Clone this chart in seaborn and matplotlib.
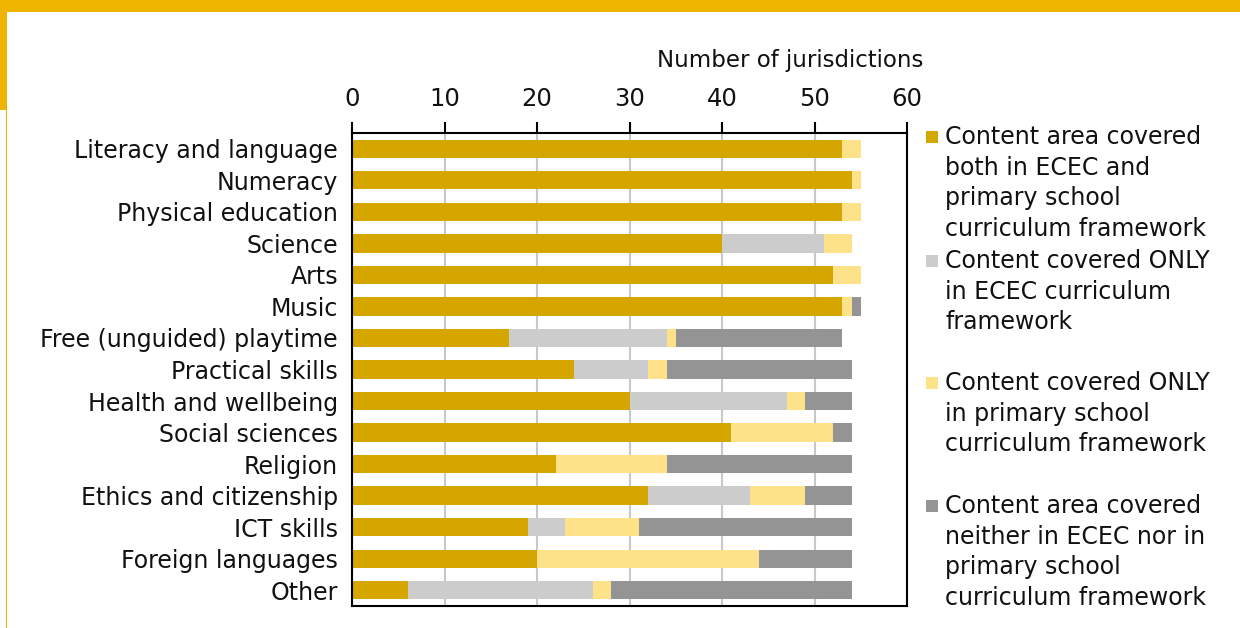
import matplotlib
matplotlib.use("Agg")
import matplotlib.pyplot as plt
from matplotlib.patches import Rectangle
import seaborn as sns
import pandas as pd
import numpy as np

categories = ["Literacy and language", "Numeracy", "Physical education", "Science", "Arts",
              "Music", "Free (unguided) playtime", "Practical skills", "Health and wellbeing",
              "Social sciences", "Religion", "Ethics and citizenship", "ICT skills",
              "Foreign languages", "Other"]
both = [53, 54, 53, 40, 52, 53, 17, 24, 30, 41, 22, 32, 19, 20, 6]
ecec_only = [0, 0, 0, 11, 0, 0, 17, 8, 17, 0, 0, 11, 4, 0, 20]
primary_only = [2, 1, 2, 3, 3, 1, 1, 2, 2, 11, 12, 6, 8, 24, 2]
neither = [0, 0, 0, 0, 0, 1, 18, 20, 5, 2, 20, 5, 23, 10, 26]

series_labels = [
    "Content area covered\nboth in ECEC and\nprimary school\ncurriculum framework",
    "Content covered ONLY\nin ECEC curriculum\nframework",
    "Content covered ONLY\nin primary school\ncurriculum framework",
    "Content area covered\nneither in ECEC nor in\nprimary school\ncurriculum framework",
]
colors = ["#D5A600", "#CCCCCC", "#FEE28A", "#949494"]
x_ticks = [0, 10, 20, 30, 40, 50, 60]
x_label = "Number of jurisdictions"

sns.set_style("white")
plt.rcParams["font.family"] = ["DejaVu Sans"]
plt.rcParams["text.color"] = "#111111"
plt.rcParams["xtick.color"] = "black"
plt.rcParams["ytick.color"] = "black"
plt.rcParams["xtick.labelcolor"] = "#111111"
plt.rcParams["ytick.labelcolor"] = "#111111"
plt.rcParams["axes.labelcolor"] = "#111111"
FS = 17

df = pd.DataFrame({"category": categories, "both": both, "ecec": ecec_only,
                   "primary": primary_only, "neither": neither})
series_cols = ["both", "ecec", "primary", "neither"]
cum = df[series_cols].cumsum(axis=1)

W, H = 1240, 628
fig = plt.figure(figsize=(W / 100, H / 100), dpi=100)
ax = fig.add_axes([352 / W, 1 - 606 / H, (907 - 352) / W, (606 - 133) / H])

for i in range(3, -1, -1):
    d = pd.DataFrame({"category": categories, "value": cum[series_cols[i]].values})
    sns.barplot(data=d, x="value", y="category", order=categories, orient="h",
                color=colors[i], saturation=1, width=0.58, errorbar=None, ax=ax,
                edgecolor="none", linewidth=0, zorder=2)

ax.set_xlim(0, 60)
ax.set_ylim(len(categories) - 0.5, -0.5)
ax.set_xticks(x_ticks)
ax.xaxis.tick_top()
ax.xaxis.set_label_position("top")
ax.tick_params(axis="x", direction="out", length=8, width=1.5, color="black",
               labelsize=FS + 0.5, pad=8, top=True, bottom=False)
ax.set_xlabel(x_label, fontsize=FS - 0.5)
ax.xaxis.set_label_coords((790 - 352) / (907 - 352), 1 + (133 - 67) / (606 - 133))
ax.set_ylabel("")
ax.set_yticks(range(len(categories)))
ax.set_yticklabels(categories, fontsize=FS)
ax.set_yticks(np.arange(-0.5, len(categories), 1), minor=True)
ax.tick_params(axis="y", which="major", length=0, pad=10)
ax.tick_params(axis="y", which="minor", length=8, width=1.5, color="black", direction="out")
ax.grid(axis="x", color="#C8C8C8", linewidth=1.5, zorder=0)
ax.set_axisbelow(True)
for s in ax.spines.values():
    s.set_visible(True)
    s.set_color("black")
    s.set_linewidth(1.5)

# decorative frame
fig.patches.append(Rectangle((0, 1 - 12 / H), 1, 12 / H, transform=fig.transFigure,
                             facecolor="#EDB500", edgecolor="none"))
fig.patches.append(Rectangle((0, 1 - 110 / H), 7 / W, 110 / H, transform=fig.transFigure,
                             facecolor="#EDB500", edgecolor="none"))
fig.patches.append(Rectangle((5.5 / W, 0), 1.8 / W, 1, transform=fig.transFigure,
                             facecolor="#EDB500", edgecolor="none"))

# legend
entry_y = [137, 261, 383, 506]
for lab, col, yc in zip(series_labels, colors, entry_y):
    fig.patches.append(Rectangle((926 / W, 1 - (yc + 6) / H), 12 / W, 12 / H,
                                 transform=fig.transFigure, facecolor=col, edgecolor="none"))
    fig.text(945 / W, 1 - (yc - 12) / H, lab, fontsize=FS, va="top", ha="left",
             linespacing=1.35)

fig.savefig("out.png", dpi=100, facecolor="white")
